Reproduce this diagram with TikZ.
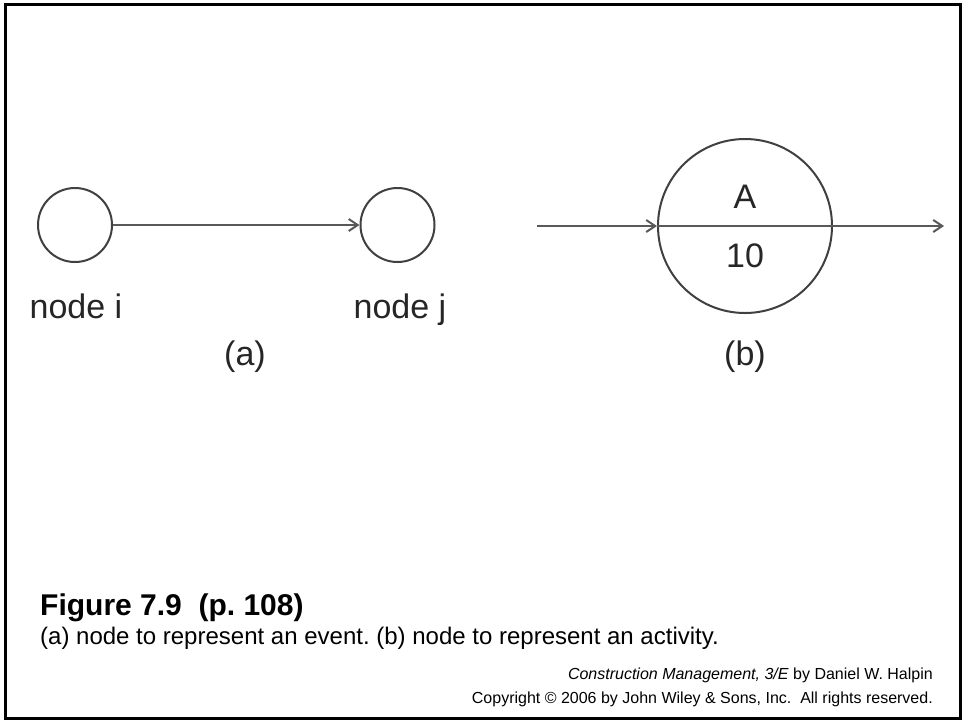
\documentclass[tikz,border=0pt]{standalone}
\usepackage{fontspec}
\setmainfont{Liberation Sans}
\usetikzlibrary{arrows.meta}
\begin{document}
\frenchspacing
\begin{tikzpicture}[x=1pt,y=-1pt,
  eventnode/.style={circle,draw=black!75,line width=2pt,minimum size=74pt,inner sep=0pt},
  actnode/.style={circle,draw=black!75,line width=2pt,minimum size=174pt,inner sep=0pt},
  arr/.style={draw=black!65,line width=2.6pt,-{Straight Barb[length=9pt,width=12pt,line width=2pt]}},
  plain/.style={draw=black!65,line width=2.6pt},
  lbl/.style={inner sep=0pt,text=black!85,font=\fontsize{34}{40}\selectfont},
  figtitle/.style={inner sep=0pt,anchor=base west,font=\fontsize{30}{36}\selectfont\bfseries},
  caption/.style={inner sep=0pt,anchor=base west,font=\fontsize{24}{28}\selectfont},
  credit/.style={inner sep=0pt,anchor=base east,font=\fontsize{16}{20}\selectfont}]
\useasboundingbox (0,0) rectangle (964,721);
\fill[white] (0,0) rectangle (964,721);
\draw[line width=3pt] (5.5,4.5) rectangle (960.5,718.5);

% (a) two event nodes joined by an activity arrow
\node[eventnode] (ni) at (75,225) {};
\node[eventnode] (nj) at (397.5,225) {};
\draw[arr] (ni.east) -- (nj.west);
\node[lbl,anchor=base] (li) at (76,318) {node i};
\node[lbl,anchor=base] (lj) at (400,318) {node j};
\node[lbl] (la) at (245,357) {(a)};

% (b) activity node with duration
\node[actnode] (act) at (745,226) {};
\coordinate (bin) at (537,226);
\coordinate (bout) at (944,226);
\draw[arr] (bin) -- (act.west);
\draw[plain] (act.west) -- (act.east);
\draw[arr] (act.east) -- (bout);
\node[lbl] (ta) at (745,197) {A};
\node[lbl] (td) at (745,256) {10};
\node[lbl] (lb) at (745,357) {(b)};

% caption and credits
\node[figtitle] (ft) at (40,615) {Figure 7.9\ \ (p. 108)};
\node[caption] (fc) at (40,644) {(a) node to represent an event. (b) node to represent an activity.};
\node[credit] (c1) at (933,679) {\textit{Construction Management, 3/E} by Daniel W. Halpin};
\node[credit] (c2) at (933,703) {Copyright \textcopyright{} 2006 by John Wiley \& Sons, Inc.\ \ All rights reserved.};
\end{tikzpicture}
\end{document}
